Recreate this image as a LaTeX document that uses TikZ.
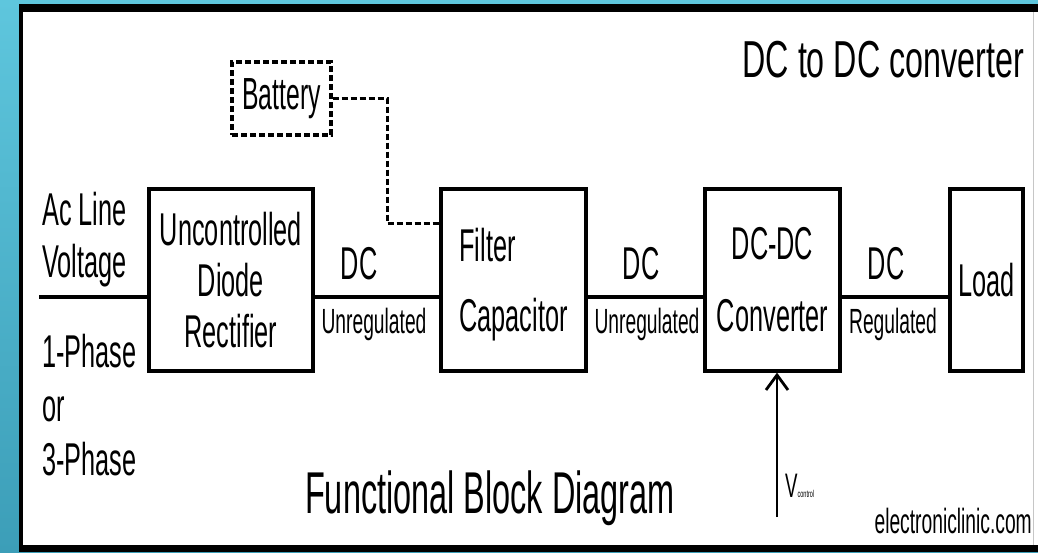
\documentclass[tikz,border=0pt]{standalone}
\usepackage{fontspec}
\setmainfont{Liberation Sans}[FakeStretch=0.55]
\newfontfamily\titlefont{Liberation Sans}[FakeStretch=0.62]
\usetikzlibrary{arrows.meta, positioning, calc}

\definecolor{bgtop}{RGB}{94,198,221}
\definecolor{bgbot}{RGB}{60,158,184}

\tikzset{
  blk/.style={draw, line width=3.2pt, inner sep=0pt, align=center,
    font=\fontsize{46}{51}\selectfont},
  wire/.style={line width=3.5pt},
  lbl/.style={inner sep=0pt, anchor=base, font=\fontsize{46}{51}\selectfont},
  sublbl/.style={inner sep=0pt, anchor=base, font=\fontsize{35}{40}\selectfont},
  dashline/.style={line width=3.2pt, dash pattern=on 6pt off 3pt},
}

\begin{document}
\begin{tikzpicture}[x=1pt, y=-1pt, line join=miter]
    \useasboundingbox (0,0) rectangle (1038,552);
    % frame
    \shade[top color=bgtop, bottom color=bgbot] (0,0) rectangle (1038,552);
    \fill[black] (19,4) rectangle (1038,552);
    \fill[white] (23,12) rectangle (1038,545);
    \draw[gray!45, line width=1pt] (1033,12) -- (1033,545);

    % blocks
    \node[blk, minimum width=164, minimum height=182] (rect) at (231,280) {Uncontrolled\\Diode\\Rectifier};
    \node[blk, minimum width=145, minimum height=182, align=left] (filt) at (513.5,280) {Filter\\[19pt]\raisebox{0pt}[\height][0pt]{Capacitor}};
    \node[blk, minimum width=135, minimum height=182] (conv) at (772.5,280) {DC-DC\\[21pt]Converter};
    \node[blk, minimum width=73, minimum height=182] (load) at (986.5,280) {Load};
    \node[blk, dashline, minimum width=99, minimum height=73, font=\fontsize{45}{50}\selectfont] (batt) at (281.5,98.5) {Battery};

    % connectors
    \coordinate (acin) at (39,297);
    \draw[wire, line width=4.5pt] (acin) -- (acin -| rect.west);
    \draw[wire] (rect.east |- acin) -- (filt.west |- acin);
    \draw[wire] (filt.east |- acin) -- (conv.west |- acin);
    \draw[wire] (conv.east |- acin) -- (load.west |- acin);
    \draw[dashline] (batt.east) -- ++(55,0) |- ([yshift=-36pt]filt.north west);
    \coordinate (vin) at (777,517);
    \draw[line width=2.8pt, -{Straight Barb[length=15pt,width=22pt]}] (vin) -- (vin |- conv.south);

    % labels
    \node[lbl, anchor=base west] (acl1) at (42,225) {Ac Line};
    \node[lbl, anchor=base west] (acl2) at (42,277) {Voltage};
    \node[lbl, anchor=base west] (ph1) at (42,367) {1-Phase};
    \node[lbl, anchor=base west] (phor) at (42,421) {or};
    \node[lbl, anchor=base west] (ph3) at (42,475) {3-Phase};
    \node[lbl] (dc1) at (359,279) {DC};
    \node[sublbl] (unreg1) at (374,333) {Unregulated};
    \node[lbl] (dc2) at (641,279) {DC};
    \node[sublbl] (unreg2) at (647,333) {Unregulated};
    \node[lbl] (dc3) at (886,279) {DC};
    \node[sublbl] (reg) at (893,333) {Regulated};
    \node[inner sep=0pt, anchor=base west] (vctl) at (785,497) {\fontsize{34}{34}\selectfont V\fontsize{10}{10}\selectfont control};

    \node[inner sep=0pt, anchor=base east, font=\titlefont\fontsize{52}{52}\selectfont] (title) at (1024,77) {DC to DC converter};
    \node[inner sep=0pt, anchor=base, font=\fontsize{59}{59}\selectfont] (fbd) at (490,513) {Functional Block Diagram};
    \node[inner sep=0pt, anchor=base east, font=\fontsize{35}{35}\selectfont] (site) at (1032,533) {electroniclinic.com};
\end{tikzpicture}
\end{document}
